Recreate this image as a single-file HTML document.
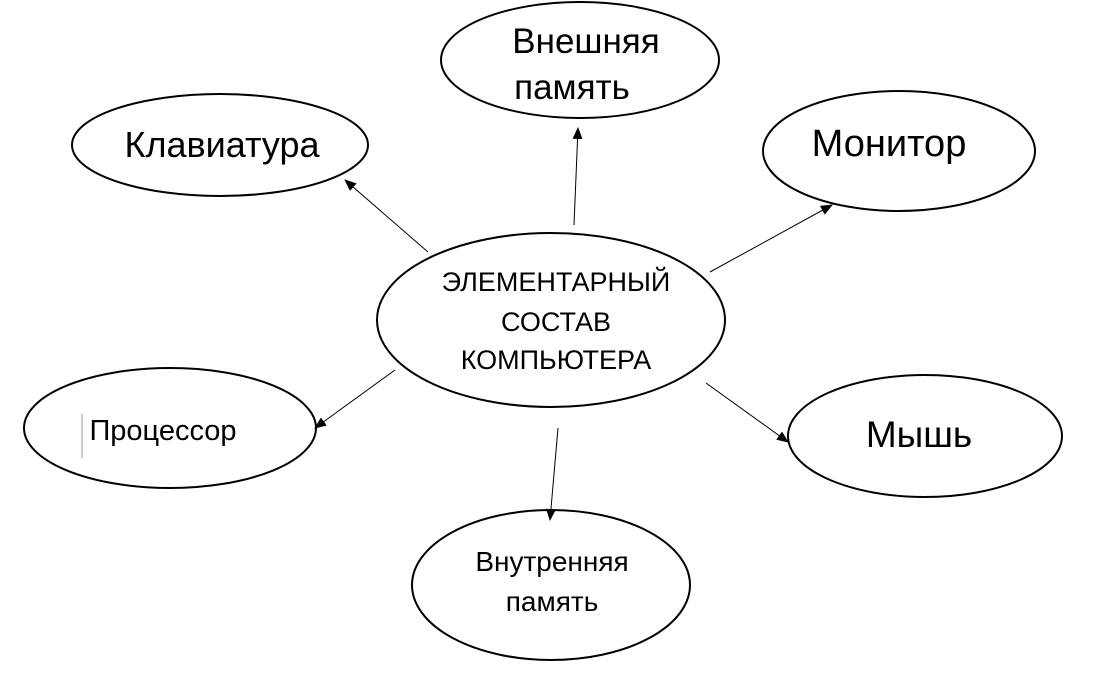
<!DOCTYPE html>
<html><head><meta charset="utf-8"><style>
html,body{margin:0;padding:0;background:#fff;}
svg text{font-family:"Liberation Sans","DejaVu Sans",sans-serif;fill:#000;}
</style></head><body>
<svg width="1096" height="669" viewBox="0 0 1096 669" xmlns="http://www.w3.org/2000/svg">
<defs><marker id="a" markerWidth="12" markerHeight="10" refX="11" refY="5" orient="auto" markerUnits="userSpaceOnUse"><path d="M0,0 L12,5 L0,10 z" fill="#000"/></marker></defs>
<g fill="#fff" stroke="#000" stroke-width="2">
<ellipse cx="551" cy="320" rx="174" ry="87"/>
<ellipse cx="580" cy="60" rx="139" ry="58"/>
<ellipse cx="220" cy="145" rx="148" ry="51"/>
<ellipse cx="899" cy="151" rx="136" ry="60"/>
<ellipse cx="170" cy="428" rx="146" ry="60"/>
<ellipse cx="925" cy="436" rx="137" ry="61"/>
<ellipse cx="551" cy="585" rx="139" ry="75"/>
</g>
<g stroke="#000" stroke-width="1" marker-end="url(#a)">
<line x1="428" y1="252" x2="345" y2="180"/>
<line x1="574" y1="225" x2="578" y2="128"/>
<line x1="710" y1="272" x2="832" y2="205"/>
<line x1="395" y1="370" x2="315" y2="428"/>
<line x1="706" y1="383" x2="788" y2="442"/>
<line x1="558" y1="428" x2="550" y2="520"/>
</g>
<line x1="82" y1="414" x2="82" y2="458" stroke="#999" stroke-width="1"/>
<g text-anchor="middle">
<text x="556" y="291" font-size="27">ЭЛЕМЕНТАРНЫЙ</text>
<text x="556" y="331" font-size="27">СОСТАВ</text>
<text x="556" y="369" font-size="27">КОМПЬЮТЕРА</text>
<text x="586" y="53" font-size="35">Внешняя</text>
<text x="572" y="99" font-size="35">память</text>
<text x="222" y="157" font-size="36">Клавиатура</text>
<text x="889" y="156" font-size="38">Монитор</text>
<text x="163" y="440" font-size="29">Процессор</text>
<text x="919" y="447" font-size="37">Мышь</text>
<text x="552" y="571" font-size="28">Внутренняя</text>
<text x="552" y="611" font-size="28">память</text>
</g>
</svg>
</body></html>
